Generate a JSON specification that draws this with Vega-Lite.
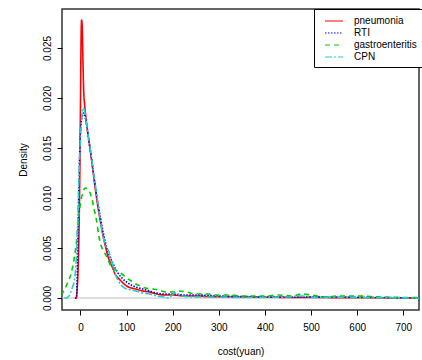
{
  "$schema": "https://vega.github.io/schema/vega-lite/v6.json",
  "width": 357,
  "height": 301,
  "autosize": {"type": "none"},
  "padding": {"left": 62, "top": 9, "right": 3, "bottom": 50},
  "background": "white",
  "config": {
    "font": "Liberation Sans",
    "view": {"stroke": "#333333", "strokeWidth": 1.5},
    "axis": {
      "grid": false,
      "domain": false,
      "tickColor": "#000000",
      "tickSize": 5,
      "labelFont": "Liberation Sans",
      "labelFontSize": 10,
      "labelColor": "#000000",
      "titleFont": "Liberation Sans",
      "titleFontSize": 10,
      "titleFontWeight": "normal",
      "titleColor": "#000000"
    },
    "legend": {
      "labelFont": "Liberation Sans",
      "labelFontSize": 10,
      "labelColor": "#000000"
    }
  },
  "datasets": {
    "curves": [
      {"series": "pneumonia", "cost": -12, "density": 0},
      {"series": "pneumonia", "cost": -9, "density": 0},
      {"series": "pneumonia", "cost": -7, "density": 0.001},
      {"series": "pneumonia", "cost": -5, "density": 0.003},
      {"series": "pneumonia", "cost": -3, "density": 0.007},
      {"series": "pneumonia", "cost": -1.5, "density": 0.012},
      {"series": "pneumonia", "cost": 0, "density": 0.019},
      {"series": "pneumonia", "cost": 1, "density": 0.0245},
      {"series": "pneumonia", "cost": 2.5, "density": 0.0278},
      {"series": "pneumonia", "cost": 4, "density": 0.0268},
      {"series": "pneumonia", "cost": 5.5, "density": 0.0235},
      {"series": "pneumonia", "cost": 7, "density": 0.0208},
      {"series": "pneumonia", "cost": 9, "density": 0.0193},
      {"series": "pneumonia", "cost": 11, "density": 0.0184},
      {"series": "pneumonia", "cost": 15, "density": 0.0168},
      {"series": "pneumonia", "cost": 20, "density": 0.0152},
      {"series": "pneumonia", "cost": 25, "density": 0.0135},
      {"series": "pneumonia", "cost": 30, "density": 0.0117},
      {"series": "pneumonia", "cost": 35, "density": 0.01},
      {"series": "pneumonia", "cost": 40, "density": 0.0085},
      {"series": "pneumonia", "cost": 45, "density": 0.0072},
      {"series": "pneumonia", "cost": 50, "density": 0.006},
      {"series": "pneumonia", "cost": 55, "density": 0.005},
      {"series": "pneumonia", "cost": 60, "density": 0.0041},
      {"series": "pneumonia", "cost": 65, "density": 0.0035},
      {"series": "pneumonia", "cost": 70, "density": 0.003},
      {"series": "pneumonia", "cost": 75, "density": 0.0024},
      {"series": "pneumonia", "cost": 80, "density": 0.0021},
      {"series": "pneumonia", "cost": 90, "density": 0.0016},
      {"series": "pneumonia", "cost": 100, "density": 0.0012},
      {"series": "pneumonia", "cost": 110, "density": 0.001},
      {"series": "pneumonia", "cost": 120, "density": 0.0009},
      {"series": "pneumonia", "cost": 135, "density": 0.0007},
      {"series": "pneumonia", "cost": 150, "density": 0.0006},
      {"series": "pneumonia", "cost": 165, "density": 0.0004},
      {"series": "pneumonia", "cost": 180, "density": 0.0003},
      {"series": "pneumonia", "cost": 200, "density": 0.0003},
      {"series": "pneumonia", "cost": 225, "density": 0.0002},
      {"series": "pneumonia", "cost": 250, "density": 0.0002},
      {"series": "pneumonia", "cost": 275, "density": 0.00015},
      {"series": "pneumonia", "cost": 300, "density": 0.00012},
      {"series": "pneumonia", "cost": 350, "density": 0.0001},
      {"series": "pneumonia", "cost": 400, "density": 0.00008},
      {"series": "pneumonia", "cost": 450, "density": 0.00006},
      {"series": "pneumonia", "cost": 500, "density": 0.00005},
      {"series": "pneumonia", "cost": 550, "density": 0.00004},
      {"series": "pneumonia", "cost": 600, "density": 0.00003},
      {"series": "pneumonia", "cost": 650, "density": 0.00002},
      {"series": "pneumonia", "cost": 700, "density": 0.00001},
      {"series": "pneumonia", "cost": 734, "density": 0.00001},

      {"series": "RTI", "cost": -12, "density": 0},
      {"series": "RTI", "cost": -9, "density": 0},
      {"series": "RTI", "cost": -7, "density": 0.002},
      {"series": "RTI", "cost": -5, "density": 0.007},
      {"series": "RTI", "cost": -3, "density": 0.012},
      {"series": "RTI", "cost": -1, "density": 0.0155},
      {"series": "RTI", "cost": 1, "density": 0.0172},
      {"series": "RTI", "cost": 4, "density": 0.0182},
      {"series": "RTI", "cost": 6.5, "density": 0.0185},
      {"series": "RTI", "cost": 9, "density": 0.0183},
      {"series": "RTI", "cost": 12, "density": 0.0177},
      {"series": "RTI", "cost": 15, "density": 0.0168},
      {"series": "RTI", "cost": 20, "density": 0.0152},
      {"series": "RTI", "cost": 25, "density": 0.0136},
      {"series": "RTI", "cost": 30, "density": 0.0119},
      {"series": "RTI", "cost": 35, "density": 0.0103},
      {"series": "RTI", "cost": 40, "density": 0.0089},
      {"series": "RTI", "cost": 45, "density": 0.0076},
      {"series": "RTI", "cost": 50, "density": 0.0064},
      {"series": "RTI", "cost": 55, "density": 0.0054},
      {"series": "RTI", "cost": 60, "density": 0.0046},
      {"series": "RTI", "cost": 65, "density": 0.004},
      {"series": "RTI", "cost": 70, "density": 0.0035},
      {"series": "RTI", "cost": 75, "density": 0.003},
      {"series": "RTI", "cost": 80, "density": 0.0026},
      {"series": "RTI", "cost": 90, "density": 0.002},
      {"series": "RTI", "cost": 100, "density": 0.0016},
      {"series": "RTI", "cost": 110, "density": 0.0013},
      {"series": "RTI", "cost": 120, "density": 0.0011},
      {"series": "RTI", "cost": 135, "density": 0.0009},
      {"series": "RTI", "cost": 150, "density": 0.0007},
      {"series": "RTI", "cost": 165, "density": 0.0005},
      {"series": "RTI", "cost": 180, "density": 0.0004},
      {"series": "RTI", "cost": 200, "density": 0.0004},
      {"series": "RTI", "cost": 225, "density": 0.0003},
      {"series": "RTI", "cost": 250, "density": 0.0003},
      {"series": "RTI", "cost": 300, "density": 0.0002},
      {"series": "RTI", "cost": 350, "density": 0.00015},
      {"series": "RTI", "cost": 400, "density": 0.0001},
      {"series": "RTI", "cost": 450, "density": 0.0001},
      {"series": "RTI", "cost": 500, "density": 0.00012},
      {"series": "RTI", "cost": 550, "density": 0.0001},
      {"series": "RTI", "cost": 600, "density": 0.00008},
      {"series": "RTI", "cost": 650, "density": 0.00005},
      {"series": "RTI", "cost": 700, "density": 0.00003},
      {"series": "RTI", "cost": 734, "density": 0.00002},

      {"series": "gastroenteritis", "cost": -42, "density": 0.0003},
      {"series": "gastroenteritis", "cost": -35, "density": 0.0008},
      {"series": "gastroenteritis", "cost": -28, "density": 0.0015},
      {"series": "gastroenteritis", "cost": -20, "density": 0.0025},
      {"series": "gastroenteritis", "cost": -13, "density": 0.0041},
      {"series": "gastroenteritis", "cost": -9, "density": 0.0055},
      {"series": "gastroenteritis", "cost": -5, "density": 0.0075},
      {"series": "gastroenteritis", "cost": 0, "density": 0.0095},
      {"series": "gastroenteritis", "cost": 5, "density": 0.0105},
      {"series": "gastroenteritis", "cost": 10, "density": 0.011},
      {"series": "gastroenteritis", "cost": 15, "density": 0.0109},
      {"series": "gastroenteritis", "cost": 20, "density": 0.0106},
      {"series": "gastroenteritis", "cost": 25, "density": 0.0099},
      {"series": "gastroenteritis", "cost": 30, "density": 0.0088},
      {"series": "gastroenteritis", "cost": 35, "density": 0.0077},
      {"series": "gastroenteritis", "cost": 40, "density": 0.0062},
      {"series": "gastroenteritis", "cost": 45, "density": 0.0052},
      {"series": "gastroenteritis", "cost": 50, "density": 0.0047},
      {"series": "gastroenteritis", "cost": 55, "density": 0.0043},
      {"series": "gastroenteritis", "cost": 60, "density": 0.0038},
      {"series": "gastroenteritis", "cost": 65, "density": 0.0033},
      {"series": "gastroenteritis", "cost": 70, "density": 0.003},
      {"series": "gastroenteritis", "cost": 80, "density": 0.0027},
      {"series": "gastroenteritis", "cost": 90, "density": 0.0024},
      {"series": "gastroenteritis", "cost": 100, "density": 0.002},
      {"series": "gastroenteritis", "cost": 110, "density": 0.0017},
      {"series": "gastroenteritis", "cost": 120, "density": 0.0014},
      {"series": "gastroenteritis", "cost": 130, "density": 0.0012},
      {"series": "gastroenteritis", "cost": 140, "density": 0.001},
      {"series": "gastroenteritis", "cost": 155, "density": 0.0009},
      {"series": "gastroenteritis", "cost": 170, "density": 0.0008},
      {"series": "gastroenteritis", "cost": 185, "density": 0.0006},
      {"series": "gastroenteritis", "cost": 200, "density": 0.0006},
      {"series": "gastroenteritis", "cost": 215, "density": 0.0007},
      {"series": "gastroenteritis", "cost": 230, "density": 0.0006},
      {"series": "gastroenteritis", "cost": 250, "density": 0.0004},
      {"series": "gastroenteritis", "cost": 275, "density": 0.0004},
      {"series": "gastroenteritis", "cost": 300, "density": 0.0003},
      {"series": "gastroenteritis", "cost": 325, "density": 0.0003},
      {"series": "gastroenteritis", "cost": 350, "density": 0.0002},
      {"series": "gastroenteritis", "cost": 400, "density": 0.0002},
      {"series": "gastroenteritis", "cost": 430, "density": 0.0003},
      {"series": "gastroenteritis", "cost": 460, "density": 0.0002},
      {"series": "gastroenteritis", "cost": 480, "density": 0.0004},
      {"series": "gastroenteritis", "cost": 500, "density": 0.0003},
      {"series": "gastroenteritis", "cost": 530, "density": 0.0001},
      {"series": "gastroenteritis", "cost": 560, "density": 0.0002},
      {"series": "gastroenteritis", "cost": 600, "density": 0.0002},
      {"series": "gastroenteritis", "cost": 650, "density": 0.0001},
      {"series": "gastroenteritis", "cost": 700, "density": 0.00005},
      {"series": "gastroenteritis", "cost": 734, "density": 0.00005},

      {"series": "CPN", "cost": -35, "density": 0},
      {"series": "CPN", "cost": -31, "density": 0},
      {"series": "CPN", "cost": -25, "density": 0.0002},
      {"series": "CPN", "cost": -18, "density": 0.001},
      {"series": "CPN", "cost": -13, "density": 0.0018},
      {"series": "CPN", "cost": -9, "density": 0.004},
      {"series": "CPN", "cost": -6, "density": 0.0075},
      {"series": "CPN", "cost": -3, "density": 0.0125},
      {"series": "CPN", "cost": 0, "density": 0.016},
      {"series": "CPN", "cost": 3, "density": 0.0182},
      {"series": "CPN", "cost": 6, "density": 0.019},
      {"series": "CPN", "cost": 9, "density": 0.0187},
      {"series": "CPN", "cost": 12, "density": 0.0178},
      {"series": "CPN", "cost": 15, "density": 0.0168},
      {"series": "CPN", "cost": 20, "density": 0.0153},
      {"series": "CPN", "cost": 25, "density": 0.0137},
      {"series": "CPN", "cost": 30, "density": 0.012},
      {"series": "CPN", "cost": 35, "density": 0.0104},
      {"series": "CPN", "cost": 40, "density": 0.0088},
      {"series": "CPN", "cost": 45, "density": 0.0072},
      {"series": "CPN", "cost": 50, "density": 0.006},
      {"series": "CPN", "cost": 55, "density": 0.0052},
      {"series": "CPN", "cost": 60, "density": 0.0048},
      {"series": "CPN", "cost": 65, "density": 0.0042},
      {"series": "CPN", "cost": 70, "density": 0.0033},
      {"series": "CPN", "cost": 75, "density": 0.0025},
      {"series": "CPN", "cost": 80, "density": 0.0019},
      {"series": "CPN", "cost": 90, "density": 0.0012},
      {"series": "CPN", "cost": 100, "density": 0.0009},
      {"series": "CPN", "cost": 110, "density": 0.0008},
      {"series": "CPN", "cost": 120, "density": 0.0007},
      {"series": "CPN", "cost": 135, "density": 0.0005},
      {"series": "CPN", "cost": 150, "density": 0.0004},
      {"series": "CPN", "cost": 165, "density": 0.0002},
      {"series": "CPN", "cost": 180, "density": 0.0001},
      {"series": "CPN", "cost": 190, "density": 0},
      {"series": "CPN", "cost": 205, "density": 0.0005},
      {"series": "CPN", "cost": 220, "density": 0.0002},
      {"series": "CPN", "cost": 250, "density": 0.0001},
      {"series": "CPN", "cost": 300, "density": 0.0001},
      {"series": "CPN", "cost": 350, "density": 0.00005},
      {"series": "CPN", "cost": 400, "density": 0.00005},
      {"series": "CPN", "cost": 450, "density": 0.0001},
      {"series": "CPN", "cost": 480, "density": 0.0002},
      {"series": "CPN", "cost": 510, "density": 0.00005},
      {"series": "CPN", "cost": 560, "density": 0.00008},
      {"series": "CPN", "cost": 600, "density": 0.00003},
      {"series": "CPN", "cost": 650, "density": 0.00003},
      {"series": "CPN", "cost": 700, "density": 0.00001},
      {"series": "CPN", "cost": 734, "density": 0}
    ]
  },
  "layer": [
    {
      "data": {"values": [{"zero": 0}]},
      "mark": {"type": "rule", "color": "#BEBEBE", "strokeWidth": 1},
      "encoding": {
        "y": {"field": "zero", "type": "quantitative", "scale": {"domain": [-0.0012, 0.0289], "nice": false, "zero": false}}
      }
    },
    {
      "data": {"name": "curves"},
      "mark": {"type": "line", "strokeWidth": 1.6, "interpolate": "monotone", "clip": true},
      "encoding": {
        "x": {
          "field": "cost", "type": "quantitative",
          "scale": {"domain": [-40, 734], "nice": false, "zero": false},
          "axis": {"title": "cost(yuan)", "values": [0, 100, 200, 300, 400, 500, 600, 700], "labelPadding": 7, "titlePadding": 14}
        },
        "y": {
          "field": "density", "type": "quantitative",
          "scale": {"domain": [-0.0012, 0.0289], "nice": false, "zero": false},
          "axis": {"title": "Density", "values": [0, 0.005, 0.01, 0.015, 0.02, 0.025], "format": ".3f", "labelAngle": -90, "labelPadding": 5, "titlePadding": 14}
        },
        "color": {
          "field": "series", "type": "nominal",
          "scale": {"domain": ["pneumonia", "RTI", "gastroenteritis", "CPN"], "range": ["#FF0000", "#0000FF", "#00CD00", "#1FCFCF"]},
          "legend": {
            "title": null,
            "orient": "none",
            "legendX": 252,
            "legendY": 0,
            "strokeColor": "#000000",
            "fillColor": "#FFFFFF",
            "padding": 5,
            "rowPadding": 0,
            "symbolType": "M-1.5,0L1.5,0",
            "symbolSize": 144,
            "symbolStrokeWidth": 1.2,
            "symbolOffset": 8,
            "labelOffset": 13,
            "labelLimit": 200
          }
        },
        "strokeDash": {
          "field": "series", "type": "nominal",
          "scale": {"domain": ["pneumonia", "RTI", "gastroenteritis", "CPN"], "range": [[1, 0], [1.5, 1.5], [5, 4], [7, 2, 2, 2]]},
          "legend": null
        }
      }
    }
  ]
}
